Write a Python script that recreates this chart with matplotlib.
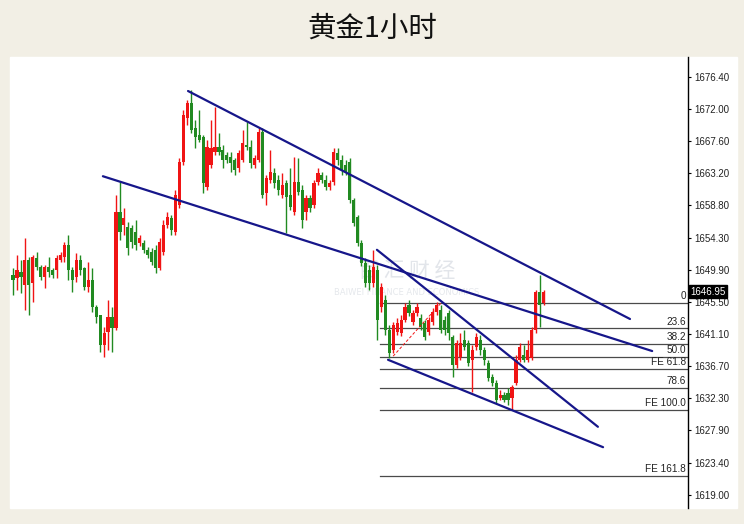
import numpy as np
import matplotlib
matplotlib.use('Agg')
import matplotlib.pyplot as plt

plt.rcParams['font.family'] = ['Noto Sans CJK SC', 'DejaVu Sans']

# hourly gold candles (red = up, green = down)
opens = [1649.2, 1648.8, 1649.7, 1647.9, 1651.3, 1648.1, 1651.6, 1650.3, 1649.0, 1650.3,
         1649.9, 1649.9, 1651.3, 1651.7, 1653.4, 1649.9, 1649.0, 1651.3, 1650.2, 1647.6,
         1648.6, 1644.8, 1643.8, 1639.6, 1641.4, 1643.5, 1642.0, 1657.9, 1656.1, 1655.8,
         1655.7, 1655.1, 1653.6, 1653.6, 1652.7, 1652.4, 1652.7, 1650.2, 1652.4, 1656.1,
         1657.1, 1655.1, 1658.9, 1664.8, 1670.8, 1672.9, 1669.4, 1668.5, 1668.2, 1661.3,
         1664.3, 1666.1, 1666.8, 1666.4, 1665.7, 1665.4, 1665.0, 1663.9, 1665.0, 1667.1,
         1666.8, 1664.3, 1665.0, 1668.9, 1660.5, 1662.3, 1663.2, 1662.3, 1660.2, 1661.9,
         1660.2, 1657.9, 1662.0, 1660.9, 1657.9, 1659.8, 1658.9, 1662.0, 1663.0, 1662.3,
         1661.3, 1662.0, 1666.0, 1665.0, 1664.3, 1664.8, 1659.5, 1657.2, 1653.6, 1650.9,
         1649.9, 1648.1, 1649.9, 1644.8, 1645.8, 1641.7, 1638.9, 1641.4, 1641.3, 1643.1,
         1645.1, 1642.8, 1644.0, 1643.3, 1642.7, 1641.4, 1642.8, 1644.2, 1644.4, 1643.1,
         1644.0, 1640.7, 1636.9, 1638.0, 1640.3, 1639.9, 1637.6, 1639.4, 1640.3, 1638.9,
         1637.2, 1635.2, 1634.4, 1632.4, 1632.8, 1633.0, 1632.4, 1634.4, 1637.6, 1638.3,
         1637.6, 1637.8, 1641.7, 1646.9, 1645.4]
closes = [1648.6, 1649.9, 1649.0, 1651.3, 1647.9, 1651.7, 1650.3, 1649.0, 1650.3, 1649.7,
          1649.2, 1651.6, 1652.0, 1653.4, 1649.9, 1648.6, 1651.3, 1649.9, 1647.6, 1648.6,
          1644.8, 1643.5, 1639.6, 1641.3, 1643.5, 1642.0, 1657.9, 1655.1, 1657.1, 1653.0,
          1653.8, 1653.4, 1654.3, 1652.7, 1652.0, 1651.0, 1650.2, 1653.8, 1656.1, 1657.2,
          1655.4, 1660.2, 1664.8, 1671.2, 1672.9, 1669.2, 1668.2, 1667.8, 1661.9, 1666.8,
          1666.7, 1666.8, 1666.1, 1665.0, 1665.0, 1664.6, 1663.7, 1666.0, 1667.4, 1666.8,
          1664.6, 1665.3, 1668.9, 1660.2, 1662.6, 1663.4, 1661.9, 1660.9, 1661.6, 1660.0,
          1658.6, 1662.0, 1660.6, 1656.8, 1659.8, 1658.4, 1661.9, 1663.2, 1662.3, 1661.3,
          1661.9, 1666.1, 1665.0, 1663.7, 1663.4, 1659.5, 1656.4, 1653.6, 1650.9, 1648.1,
          1648.1, 1650.3, 1643.1, 1647.6, 1641.7, 1638.5, 1642.4, 1642.7, 1643.1, 1644.8,
          1644.0, 1644.0, 1644.8, 1642.1, 1640.7, 1643.1, 1644.2, 1645.1, 1641.7, 1641.7,
          1641.3, 1636.9, 1639.9, 1639.9, 1639.4, 1637.2, 1638.9, 1640.7, 1638.9, 1637.6,
          1635.1, 1634.4, 1632.1, 1632.8, 1632.1, 1632.1, 1633.9, 1637.6, 1639.4, 1637.6,
          1638.9, 1641.7, 1646.9, 1645.1, 1646.95]
highs = [1650.2, 1652.0, 1651.3, 1654.3, 1651.7, 1652.0, 1652.4, 1650.6, 1650.6, 1651.7,
         1650.2, 1652.0, 1652.4, 1653.8, 1654.7, 1650.3, 1652.3, 1652.0, 1650.3, 1651.0,
         1650.2, 1645.1, 1643.8, 1642.1, 1645.8, 1644.8, 1660.2, 1662.0, 1658.4, 1656.5,
         1656.1, 1656.8, 1654.7, 1654.0, 1653.1, 1653.0, 1653.4, 1654.3, 1656.8, 1657.9,
         1657.5, 1660.9, 1665.3, 1671.9, 1673.3, 1674.6, 1670.5, 1671.9, 1668.5, 1667.8,
         1670.5, 1672.3, 1668.7, 1667.1, 1666.1, 1666.1, 1665.3, 1666.4, 1669.2, 1670.2,
         1667.8, 1665.7, 1669.4, 1669.4, 1663.0, 1666.4, 1663.9, 1663.0, 1663.2, 1662.3,
         1663.9, 1665.4, 1665.3, 1661.6, 1660.2, 1660.2, 1662.3, 1663.9, 1663.4, 1663.0,
         1662.3, 1666.7, 1666.7, 1665.7, 1665.0, 1665.3, 1659.8, 1657.5, 1654.0, 1651.6,
         1650.6, 1652.7, 1650.6, 1648.1, 1646.5, 1642.4, 1642.8, 1643.3, 1643.8, 1645.4,
         1645.8, 1644.4, 1645.4, 1643.9, 1643.1, 1643.5, 1644.7, 1645.5, 1645.1, 1643.6,
         1644.4, 1641.0, 1640.3, 1641.3, 1641.7, 1640.3, 1639.6, 1641.3, 1641.0, 1639.4,
         1637.6, 1635.6, 1634.8, 1633.5, 1633.2, 1633.7, 1634.1, 1638.3, 1639.9, 1639.6,
         1640.3, 1642.1, 1647.2, 1649.3, 1647.2]
lows = [1646.5, 1647.2, 1646.8, 1644.4, 1643.8, 1645.5, 1649.9, 1648.6, 1647.5, 1649.0,
        1648.8, 1648.8, 1651.0, 1651.0, 1648.6, 1646.9, 1648.3, 1649.2, 1647.2, 1646.9,
        1644.2, 1642.7, 1638.7, 1638.0, 1638.9, 1638.7, 1641.7, 1654.0, 1654.7, 1652.0,
        1653.0, 1652.7, 1653.2, 1652.3, 1651.6, 1650.6, 1649.5, 1649.9, 1652.0, 1655.7,
        1654.7, 1654.7, 1658.4, 1664.3, 1669.8, 1668.7, 1666.7, 1667.5, 1660.5, 1660.9,
        1663.9, 1665.7, 1665.7, 1663.9, 1664.6, 1663.4, 1663.0, 1663.4, 1664.8, 1666.4,
        1663.9, 1663.9, 1664.8, 1659.8, 1658.9, 1661.9, 1661.2, 1660.2, 1659.8, 1655.0,
        1658.2, 1657.5, 1660.2, 1655.7, 1656.8, 1657.9, 1658.4, 1661.6, 1661.9, 1660.9,
        1660.9, 1661.6, 1664.3, 1663.0, 1663.0, 1659.1, 1656.0, 1653.2, 1650.5, 1647.6,
        1647.2, 1647.6, 1640.3, 1644.2, 1641.0, 1637.8, 1638.5, 1641.0, 1640.9, 1642.8,
        1643.6, 1642.4, 1643.6, 1641.7, 1640.3, 1641.0, 1642.4, 1643.8, 1641.3, 1641.0,
        1640.3, 1635.2, 1636.5, 1637.6, 1638.9, 1636.7, 1633.2, 1638.9, 1638.3, 1636.9,
        1634.7, 1634.0, 1631.7, 1632.1, 1631.8, 1631.4, 1630.7, 1634.1, 1637.3, 1637.3,
        1637.3, 1637.6, 1641.3, 1642.1, 1645.1]

price_ticks = [1676.40, 1672.00, 1667.60, 1663.20, 1658.80, 1654.30, 1649.90,
               1645.50, 1641.10, 1636.70, 1632.30, 1627.90, 1623.40, 1619.00]
last_price = 1646.95

# fibonacci levels drawn on the chart
fib_labels = ['0', '23.6', '38.2', '50.0', 'FE 61.8', '78.6', 'FE 100.0', 'FE 161.8']
fib_prices = [1645.4, 1641.9, 1639.8, 1638.0, 1636.3, 1633.7, 1630.7, 1621.6]
fib_start = 92.7

# channel / trend lines: (bar index, price) end points
trend_lines = [[(44.2, 1674.5), (155.8, 1643.2)],
               [(22.7, 1662.8), (161.4, 1638.8)],
               [(91.9, 1652.7), (147.7, 1628.4)],
               [(94.7, 1637.6), (149.0, 1625.6)]]
fib_base = [(96.0, 1638.1), (108.1, 1645.4)]

up_col = '#f01414'
dn_col = '#218a21'

fig = plt.figure(figsize=(7.44, 5.24), dpi=100)
fig.patch.set_facecolor('#f2efe5')
# white panel behind chart and price scale
fig.patches.append(plt.Rectangle((10 / 744, 16 / 524), 727 / 744, 451 / 524,
                                 transform=fig.transFigure, color='white', zorder=-5))

ax = fig.add_axes([10 / 744, 16 / 524, 678 / 744, 451 / 524])
ax.set_zorder(2)
ax.set_facecolor('white')

o = np.array(opens)
c = np.array(closes)
h = np.array(highs)
l = np.array(lows)
idx = np.arange(len(o))
cols = np.where(c >= o, up_col, dn_col)

ax.vlines(idx, l, h, colors=cols, linewidth=1.0, zorder=3)
body = np.maximum(np.abs(c - o), 0.12)
ax.bar(idx, body, bottom=np.minimum(o, c), width=0.8, color=cols,
       linewidth=0, zorder=4)

x_right = 170.45
for lab, p in zip(fib_labels, fib_prices):
    ax.plot([fib_start, x_right], [p, p], color='#4a4a4a', linewidth=0.9, zorder=2)
    ax.text(x_right - 0.5, p + 0.25, lab, ha='right', va='bottom', fontsize=7.2,
            family='Liberation Sans', color='#222222', zorder=6)

ax.plot([fib_base[0][0], fib_base[1][0]], [fib_base[0][1], fib_base[1][1]],
        color=up_col, linestyle=(0, (3, 2)), linewidth=0.7, zorder=5)

for (x0, y0), (x1, y1) in trend_lines:
    ax.plot([x0, x1], [y0, y1], color='#16168a', linewidth=1.6,
            solid_capstyle='round', zorder=5)

# faint watermark
ax.text(0.585, 0.525, '百 汇 财 经', transform=ax.transAxes, ha='center', va='center',
        fontsize=15, color='#e2e5ea', zorder=1)
ax.text(0.585, 0.478, 'BAIWEI FINANCE AND ECONOMICS', transform=ax.transAxes,
        ha='center', va='center', fontsize=6, color='#e5e8ec', zorder=1,
        family='DejaVu Sans')

ax.set_xlim(-0.76, x_right)
ax.set_ylim(1617.25, 1679.17)
ax.yaxis.tick_right()
ax.set_yticks(price_ticks)
ax.set_yticklabels(['%.2f' % v for v in price_ticks], family='Liberation Sans',
                   fontsize=7, color='#222222')
ax.tick_params(axis='y', direction='out', length=2.5, width=0.8, pad=2)
ax.set_xticks([])
for side in ['left', 'top', 'bottom']:
    ax.spines[side].set_visible(False)
ax.spines['right'].set_linewidth(1.0)

ax.text(1.004, last_price, '%.2f' % last_price, transform=ax.get_yaxis_transform(),
        ha='left', va='center', fontsize=7, family='Liberation Sans', color='white',
        bbox=dict(boxstyle='square,pad=0.15', facecolor='black', edgecolor='black'),
        zorder=10, clip_on=False)

fig.text(0.5, 0.945, '黄金1小时', ha='center', va='center', fontsize=20.5, color='#111111')

fig.savefig('out.png', dpi=100, facecolor=fig.get_facecolor())
